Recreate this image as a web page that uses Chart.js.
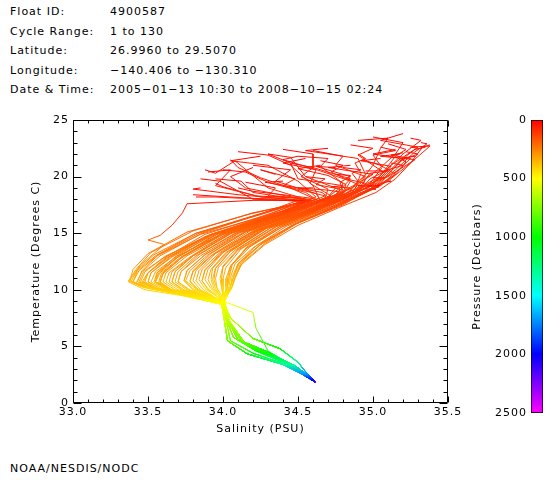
<!DOCTYPE html>
<html>
<head>
<meta charset="utf-8">
<script src="https://cdn.jsdelivr.net/npm/chart.js@4"></script>
<style>
body { margin: 0; background: #fff; }
#wrap { position: relative; width: 560px; height: 480px; font: 11px 'DejaVu Sans'; letter-spacing: 1px; color: #000; }
.t { position: absolute; white-space: nowrap; line-height: 13px; }
canvas { position: absolute; top: 0; }
</style>
</head>
<body>
<div id="wrap">
  <div class="t" style="left:10px;top:5px">Float ID:</div>
  <div class="t" style="left:110px;top:5px">4900587</div>
  <div class="t" style="left:10px;top:25px">Cycle Range:</div>
  <div class="t" style="left:110px;top:25px">1 to 130</div>
  <div class="t" style="left:10px;top:44px">Latitude:</div>
  <div class="t" style="left:110px;top:44px">26.9960 to 29.5070</div>
  <div class="t" style="left:10px;top:64px">Longitude:</div>
  <div class="t" style="left:110px;top:64px">−140.406 to −130.310</div>
  <div class="t" style="left:10px;top:83px">Date &amp; Time:</div>
  <div class="t" style="left:110px;top:83px">2005−01−13 10:30 to 2008−10−15 02:24</div>
  <div class="t" style="left:10px;top:462px">NOAA/NESDIS/NODC</div>
  <canvas id="ts" width="560" height="480" style="left:0"></canvas>
  <canvas id="bar" width="120" height="480" style="left:440px"></canvas>
</div>
<script>
// pressure levels (dbar) shared by every profile
const pressure = [5, 25, 50, 75, 100, 150, 200, 250, 300, 350, 400, 450, 500, 600, 800, 1000, 1300, 1700, 2000, 2200];

// salinity (PSU), one row per profile
const salinity = [
  [35.38, 35.33, 35.25, 35.15, 35.02, 34.78, 34.50, 34.28, 34.12, 34.08, 34.06, 34.03, 34.01, 34.05, 34.20, 34.38, 34.50, 34.56, 34.60, 34.62],
  [35.35, 35.28, 35.22, 35.10, 34.98, 34.72, 34.42, 34.20, 34.08, 34.05, 34.04, 34.02, 34.00, 34.03, 34.12, 34.30, 34.46, 34.55, 34.60, 34.62],
  [35.20, 35.05, 35.30, 35.12, 35.00, 34.70, 34.38, 34.15, 34.05, 34.03, 34.03, 34.01, 34.00, 34.02, 34.10, 34.26, 34.44, 34.54, 34.60, 34.62],
  [35.00, 35.20, 35.15, 35.05, 34.95, 34.65, 34.30, 34.05, 33.95, 33.93, 33.95, 33.98, 34.00, 34.04, 34.15, 34.33, 34.48, 34.56, 34.60, 34.62],
  [35.18, 35.05, 35.28, 35.10, 34.90, 34.60, 34.22, 33.98, 33.88, 33.86, 33.90, 33.96, 34.00, 34.01, 34.03, 34.16, 34.40, 34.52, 34.59, 34.62],
  [35.05, 34.90, 35.04, 34.98, 34.92, 34.55, 34.18, 33.92, 33.80, 33.78, 33.84, 33.93, 34.00, 34.03, 34.12, 34.30, 34.46, 34.55, 34.60, 34.62],
  [34.95, 35.02, 34.96, 34.90, 34.85, 34.50, 34.10, 33.85, 33.72, 33.70, 33.78, 33.90, 33.99, 34.02, 34.10, 34.26, 34.44, 34.54, 34.60, 34.62],
  [34.50, 34.40, 34.65, 34.85, 34.80, 34.45, 34.02, 33.78, 33.64, 33.62, 33.70, 33.85, 33.99, 34.04, 34.15, 34.33, 34.48, 34.56, 34.60, 34.62],
  [34.30, 34.45, 34.50, 34.80, 34.70, 34.38, 33.95, 33.70, 33.56, 33.55, 33.64, 33.82, 33.99, 34.05, 34.20, 34.38, 34.50, 34.56, 34.60, 34.62],
  [34.00, 34.15, 34.30, 34.55, 34.62, 34.30, 33.90, 33.62, 33.50, 33.48, 33.58, 33.78, 33.98, 34.03, 34.12, 34.30, 34.46, 34.55, 34.60, 34.62],
  [33.82, 33.95, 34.10, 34.40, 34.60, 34.20, 33.80, 33.52, 33.42, 33.37, 33.45, 33.70, 34.00, 34.01, 34.03, 34.16, 34.40, 34.52, 34.59, 34.62],
  [34.55, 34.20, 33.76, 33.73, 33.66, 33.58, 33.50, 33.61, 33.45, 33.37, 33.48, 33.72, 34.00, 34.02, 34.10, 34.26, 34.44, 34.54, 34.60, 34.62],
  [34.85, 34.70, 35.00, 34.95, 34.92, 34.62, 34.26, 34.02, 33.92, 33.90, 33.93, 33.97, 34.00, 34.02, 34.10, 34.26, 34.44, 34.54, 34.60, 34.62],
  [34.60, 34.80, 34.75, 34.95, 34.88, 34.58, 34.20, 33.95, 33.84, 33.82, 33.87, 33.94, 34.00, 34.04, 34.15, 34.33, 34.48, 34.56, 34.60, 34.62],
  [34.15, 34.35, 34.30, 34.50, 34.55, 34.35, 33.98, 33.72, 33.60, 33.58, 33.66, 33.83, 33.99, 34.03, 34.12, 34.30, 34.46, 34.55, 34.60, 34.62],
  [33.90, 34.05, 33.95, 34.25, 34.50, 34.25, 33.86, 33.58, 33.46, 33.42, 33.52, 33.75, 33.99, 34.01, 34.03, 34.16, 34.40, 34.52, 34.59, 34.62],
  [34.05, 34.10, 34.25, 34.45, 34.60, 34.40, 34.05, 33.80, 33.68, 33.66, 33.74, 33.88, 34.00, 34.05, 34.20, 34.38, 34.50, 34.56, 34.60, 34.62],
  [34.40, 34.60, 34.60, 34.85, 34.75, 34.48, 34.12, 33.88, 33.76, 33.74, 33.80, 33.91, 34.00, 34.02, 34.10, 34.26, 34.44, 34.54, 34.60, 34.62],
  [35.10, 35.12, 35.08, 35.02, 34.95, 34.68, 34.32, 34.10, 34.00, 33.98, 33.99, 34.00, 34.01, 34.04, 34.15, 34.33, 34.48, 34.56, 34.60, 34.62],
  [35.28, 35.18, 35.22, 35.15, 35.05, 34.75, 34.45, 34.22, 34.10, 34.07, 34.05, 34.02, 34.00, 34.03, 34.12, 34.30, 34.46, 34.55, 34.60, 34.62],
  [34.70, 34.55, 34.90, 34.95, 34.82, 34.52, 34.15, 33.90, 33.78, 33.75, 33.82, 33.92, 34.00, 34.01, 34.03, 34.16, 34.40, 34.52, 34.59, 34.62],
  [34.75, 34.85, 34.82, 34.95, 34.90, 34.60, 34.25, 34.00, 33.90, 33.88, 33.92, 33.97, 34.02, 34.20, 34.22, 34.30, 34.45, 34.55, 34.60, 34.62],
  [33.88, 33.95, 34.08, 34.30, 34.55, 34.30, 33.92, 33.65, 33.52, 33.50, 33.60, 33.80, 33.99, 34.03, 34.12, 34.30, 34.46, 34.55, 34.60, 34.62],
  [34.30, 34.45, 34.55, 34.75, 34.70, 34.42, 34.04, 33.76, 33.62, 33.60, 33.68, 33.84, 33.99, 34.02, 34.10, 34.26, 34.44, 34.54, 34.60, 34.62],
  [34.90, 35.10, 35.05, 35.00, 34.90, 34.60, 34.28, 34.05, 33.95, 33.94, 33.96, 33.99, 34.00, 34.05, 34.20, 34.38, 34.50, 34.56, 34.60, 34.62],
  [35.30, 35.25, 35.38, 35.25, 35.10, 34.80, 34.48, 34.25, 34.11, 34.07, 34.05, 34.03, 34.01, 34.04, 34.15, 34.33, 34.48, 34.56, 34.60, 34.62],
  [34.60, 34.50, 34.70, 34.80, 34.78, 34.40, 33.95, 33.62, 33.48, 33.45, 33.56, 33.78, 33.99, 34.03, 34.12, 34.30, 34.46, 34.55, 34.60, 34.62],
  [34.80, 34.72, 34.85, 34.82, 34.80, 34.45, 34.00, 33.70, 33.55, 33.52, 33.62, 33.80, 33.99, 34.01, 34.03, 34.16, 34.40, 34.52, 34.59, 34.62],
  [35.32, 35.36, 35.28, 35.15, 35.00, 34.74, 34.46, 34.24, 34.10, 34.06, 34.05, 34.02, 34.00, 34.02, 34.07, 34.22, 34.42, 34.53, 34.59, 34.62],
  [34.95, 35.10, 34.98, 34.92, 34.85, 34.52, 34.14, 33.88, 33.76, 33.74, 33.80, 33.91, 34.00, 34.03, 34.17, 34.36, 34.49, 34.56, 34.60, 34.62],
  [34.45, 34.60, 34.52, 34.70, 34.68, 34.35, 33.94, 33.66, 33.52, 33.50, 33.58, 33.78, 33.99, 34.05, 34.20, 34.38, 34.50, 34.56, 34.60, 34.62],
  [35.05, 34.92, 35.12, 35.05, 34.95, 34.64, 34.28, 34.04, 33.93, 33.92, 33.94, 33.98, 34.00, 34.03, 34.12, 34.30, 34.46, 34.55, 34.60, 34.62],
  [34.20, 34.45, 34.35, 34.62, 34.65, 34.28, 33.85, 33.56, 33.44, 33.40, 33.50, 33.72, 34.00, 34.02, 34.10, 34.26, 34.44, 34.54, 34.60, 34.62],
  [35.22, 35.30, 35.18, 35.10, 35.02, 34.70, 34.36, 34.12, 34.02, 34.00, 34.00, 34.00, 34.01, 34.04, 34.15, 34.33, 34.48, 34.56, 34.60, 34.62],
  [34.65, 34.80, 34.72, 34.90, 34.86, 34.50, 34.08, 33.82, 33.70, 33.68, 33.76, 33.89, 34.00, 34.01, 34.03, 34.16, 34.40, 34.52, 34.59, 34.62],
  [34.10, 34.20, 34.40, 34.58, 34.66, 34.32, 33.88, 33.60, 33.47, 33.44, 33.54, 33.76, 34.00, 34.02, 34.07, 34.22, 34.42, 34.53, 34.59, 34.62],
  [34.85, 35.00, 34.90, 35.08, 34.98, 34.66, 34.32, 34.08, 33.97, 33.95, 33.96, 33.99, 34.00, 34.03, 34.12, 34.30, 34.46, 34.55, 34.60, 34.62],
  [34.35, 34.25, 34.48, 34.40, 34.68, 34.40, 34.00, 33.74, 33.60, 33.58, 33.66, 33.83, 33.99, 34.03, 34.17, 34.36, 34.49, 34.56, 34.60, 34.62],
  [35.15, 35.00, 35.20, 35.12, 35.05, 34.76, 34.48, 34.26, 34.12, 34.08, 34.06, 34.03, 34.01, 34.02, 34.10, 34.26, 34.44, 34.54, 34.60, 34.62],
  [33.95, 34.12, 34.20, 34.35, 34.58, 34.22, 33.82, 33.54, 33.43, 33.39, 33.47, 33.71, 34.00, 34.05, 34.20, 34.38, 34.50, 34.56, 34.60, 34.62],
  [34.75, 34.62, 34.85, 34.78, 34.80, 34.46, 34.05, 33.80, 33.68, 33.66, 33.73, 33.87, 34.00, 34.04, 34.15, 34.33, 34.48, 34.56, 34.60, 34.62],
  [35.00, 35.08, 35.02, 34.96, 34.90, 34.58, 34.22, 33.98, 33.86, 33.84, 33.88, 33.95, 34.00, 34.02, 34.07, 34.22, 34.42, 34.53, 34.59, 34.62],
  [34.55, 34.40, 34.62, 34.58, 34.72, 34.36, 33.92, 33.64, 33.50, 33.46, 33.56, 33.77, 33.99, 34.01, 34.03, 34.16, 34.40, 34.52, 34.59, 34.62],
  [35.25, 35.32, 35.20, 35.08, 34.98, 34.68, 34.38, 34.16, 34.06, 34.04, 34.03, 34.02, 34.00, 34.03, 34.12, 34.30, 34.46, 34.55, 34.60, 34.62],
  [34.25, 34.05, 34.30, 34.50, 34.62, 34.34, 33.96, 33.70, 33.58, 33.55, 33.63, 33.81, 33.99, 34.03, 34.17, 34.36, 34.49, 34.56, 34.60, 34.62],
  [34.90, 34.95, 34.88, 34.92, 34.88, 34.56, 34.18, 33.94, 33.82, 33.80, 33.85, 33.93, 34.00, 34.02, 34.10, 34.26, 34.44, 34.54, 34.60, 34.62],
  [33.85, 33.80, 34.10, 34.45, 34.55, 34.18, 33.76, 33.50, 33.40, 33.38, 33.48, 33.72, 34.00, 34.04, 34.15, 34.33, 34.48, 34.56, 34.60, 34.62],
  [35.12, 35.20, 35.10, 35.15, 35.05, 34.72, 34.40, 34.18, 34.06, 34.04, 34.03, 34.01, 34.00, 34.02, 34.07, 34.22, 34.42, 34.53, 34.59, 34.62],
  [33.80, 33.92, 34.05, 34.30, 34.52, 34.22, 33.84, 33.57, 33.46, 33.43, 33.52, 33.74, 34.00, 34.02, 34.05, 34.20, 34.41, 34.53, 34.59, 34.62],
  [34.20, 34.05, 34.15, 34.38, 34.58, 34.30, 33.93, 33.68, 33.56, 33.54, 33.63, 33.81, 33.99, 34.03, 34.12, 34.30, 34.46, 34.55, 34.60, 34.62],
  [34.55, 34.68, 34.62, 34.78, 34.76, 34.44, 34.06, 33.80, 33.66, 33.64, 33.72, 33.86, 34.00, 34.04, 34.15, 34.33, 34.48, 34.56, 34.60, 34.62],
  [34.95, 35.05, 35.10, 34.98, 34.92, 34.60, 34.24, 34.00, 33.88, 33.86, 33.90, 33.96, 34.00, 34.02, 34.05, 34.20, 34.41, 34.53, 34.59, 34.62],
  [34.10, 34.30, 34.45, 34.60, 34.64, 34.34, 33.96, 33.70, 33.57, 33.55, 33.64, 33.82, 33.99, 34.02, 34.10, 34.26, 34.44, 34.54, 34.60, 34.62],
  [35.10, 35.22, 35.15, 35.08, 35.00, 34.70, 34.40, 34.16, 34.05, 34.02, 34.02, 34.01, 34.00, 34.05, 34.20, 34.38, 34.50, 34.56, 34.60, 34.62],
  [33.95, 34.00, 34.22, 34.48, 34.56, 34.24, 33.82, 33.55, 33.43, 33.40, 33.50, 33.74, 34.00, 34.03, 34.17, 34.36, 34.49, 34.56, 34.60, 34.62],
  [34.65, 34.50, 34.70, 34.82, 34.80, 34.48, 34.10, 33.84, 33.72, 33.70, 33.77, 33.89, 34.00, 34.02, 34.07, 34.22, 34.42, 34.53, 34.59, 34.62],
  [35.20, 35.12, 35.25, 35.18, 35.08, 34.80, 34.50, 34.28, 34.13, 34.08, 34.06, 34.03, 34.01, 34.03, 34.12, 34.30, 34.46, 34.55, 34.60, 34.62],
  [34.40, 34.28, 34.50, 34.66, 34.70, 34.38, 33.98, 33.72, 33.59, 33.57, 33.65, 33.82, 33.99, 34.01, 34.03, 34.16, 34.40, 34.52, 34.59, 34.62],
  [34.80, 34.92, 34.86, 34.90, 34.84, 34.52, 34.16, 33.92, 33.80, 33.78, 33.83, 33.92, 34.00, 34.02, 34.05, 34.20, 34.41, 34.53, 34.59, 34.62],
  [33.85, 33.98, 34.20, 34.42, 34.55, 34.26, 33.88, 33.62, 33.50, 33.47, 33.56, 33.77, 34.00, 34.04, 34.15, 34.33, 34.48, 34.56, 34.60, 34.62],
  [35.05, 35.15, 35.00, 35.06, 34.98, 34.66, 34.34, 34.10, 34.00, 33.99, 33.99, 34.00, 34.01, 34.02, 34.10, 34.26, 34.44, 34.54, 34.60, 34.62],
  [34.50, 34.70, 34.65, 34.80, 34.78, 34.42, 34.02, 33.74, 33.60, 33.58, 33.66, 33.84, 33.99, 34.05, 34.20, 34.38, 34.50, 34.56, 34.60, 34.62]
];

// temperature (deg C), same rows
const temperature = [
  [22.8, 22.6, 21.2, 19.8, 18.6, 17.3, 15.7, 14.0, 12.2, 11.0, 10.2, 9.5, 8.9, 7.5, 5.7, 4.8, 3.6, 2.6, 2.05, 1.8],
  [22.6, 22.4, 21.8, 20.2, 18.9, 17.2, 15.6, 13.7, 12.3, 11.1, 10.3, 9.6, 9.0, 7.5, 5.5, 4.5, 3.4, 2.55, 2.05, 1.8],
  [23.8, 23.2, 22.6, 21.0, 19.5, 17.4, 15.6, 13.6, 12.1, 11.0, 10.2, 9.6, 9.0, 7.6, 5.6, 4.5, 3.4, 2.55, 2.05, 1.8],
  [23.5, 23.0, 22.0, 20.8, 19.8, 17.6, 15.5, 13.4, 11.9, 10.9, 10.1, 9.5, 8.9, 7.3, 5.2, 4.2, 3.3, 2.5, 2.0, 1.8],
  [22.0, 21.8, 21.5, 20.0, 19.0, 17.1, 15.2, 13.2, 11.7, 10.8, 10.0, 9.4, 8.9, 7.2, 5.5, 4.35, 3.4, 2.6, 2.05, 1.8],
  [19.2, 19.2, 19.1, 18.8, 18.4, 16.8, 15.0, 13.0, 11.6, 10.7, 10.0, 9.4, 8.9, 7.5, 5.5, 4.5, 3.4, 2.55, 2.05, 1.8],
  [18.9, 18.9, 18.8, 18.5, 18.2, 16.7, 15.0, 13.0, 11.6, 10.7, 10.0, 9.4, 8.8, 7.6, 5.6, 4.5, 3.4, 2.55, 2.05, 1.8],
  [21.8, 21.5, 20.5, 19.6, 18.5, 16.6, 14.9, 12.9, 11.5, 10.7, 10.0, 9.4, 8.8, 7.3, 5.2, 4.2, 3.3, 2.5, 2.0, 1.8],
  [22.0, 21.2, 19.8, 19.2, 18.2, 16.6, 14.9, 12.9, 11.5, 10.7, 10.0, 9.4, 8.8, 7.5, 5.7, 4.8, 3.6, 2.6, 2.05, 1.8],
  [20.6, 20.4, 19.5, 18.6, 18.0, 16.5, 14.8, 12.8, 11.5, 10.7, 10.0, 9.4, 8.8, 7.5, 5.5, 4.5, 3.4, 2.55, 2.05, 1.8],
  [18.2, 18.2, 18.1, 18.0, 17.9, 16.8, 15.2, 13.3, 11.8, 10.8, 10.3, 9.6, 8.7, 7.2, 5.5, 4.35, 3.4, 2.6, 2.05, 1.8],
  [17.9, 17.9, 17.6, 16.8, 15.7, 14.8, 14.4, 14.0, 12.2, 10.7, 10.0, 9.5, 8.7, 7.6, 5.6, 4.5, 3.4, 2.55, 2.05, 1.8],
  [21.0, 20.8, 20.2, 19.8, 18.9, 17.0, 15.3, 13.3, 11.8, 10.9, 10.1, 9.5, 8.9, 7.6, 5.6, 4.5, 3.4, 2.55, 2.05, 1.8],
  [22.3, 21.8, 21.0, 20.0, 18.7, 16.9, 15.2, 13.2, 11.7, 10.8, 10.0, 9.4, 8.9, 7.3, 5.2, 4.2, 3.3, 2.5, 2.0, 1.8],
  [19.5, 19.0, 18.3, 18.1, 17.8, 16.5, 14.8, 12.8, 11.4, 10.6, 10.0, 9.4, 8.8, 7.5, 5.5, 4.5, 3.4, 2.55, 2.05, 1.8],
  [20.4, 20.6, 19.2, 18.2, 17.9, 16.7, 15.0, 13.0, 11.6, 10.6, 10.1, 9.5, 8.7, 7.2, 5.5, 4.35, 3.4, 2.6, 2.05, 1.8],
  [21.5, 20.8, 19.9, 19.0, 18.1, 16.7, 15.0, 13.0, 11.6, 10.7, 10.0, 9.4, 8.8, 7.5, 5.7, 4.8, 3.6, 2.6, 2.05, 1.8],
  [22.4, 22.0, 20.8, 19.8, 18.4, 16.8, 15.1, 13.1, 11.7, 10.8, 10.0, 9.4, 8.9, 7.6, 5.6, 4.5, 3.4, 2.55, 2.05, 1.8],
  [19.6, 19.6, 19.5, 19.2, 18.7, 17.1, 15.5, 13.6, 12.1, 11.0, 10.2, 9.5, 8.9, 7.3, 5.2, 4.2, 3.3, 2.5, 2.0, 1.8],
  [21.8, 21.6, 21.3, 20.2, 19.2, 17.3, 15.6, 13.9, 12.3, 11.1, 10.3, 9.6, 9.0, 7.5, 5.5, 4.5, 3.4, 2.55, 2.05, 1.8],
  [22.5, 22.3, 21.6, 20.2, 18.5, 16.8, 15.1, 13.1, 11.7, 10.8, 10.1, 9.5, 8.9, 7.2, 5.5, 4.35, 3.4, 2.6, 2.05, 1.8],
  [20.2, 20.1, 19.8, 19.4, 18.8, 17.0, 15.3, 13.3, 11.8, 10.9, 10.1, 9.5, 8.9, 8.0, 6.6, 4.6, 3.4, 2.5, 2.05, 1.8],
  [20.6, 20.3, 21.4, 19.0, 18.0, 16.6, 14.9, 12.9, 11.5, 10.7, 10.0, 9.4, 8.8, 7.5, 5.5, 4.5, 3.4, 2.55, 2.05, 1.8],
  [22.0, 21.7, 20.0, 19.0, 18.2, 16.7, 15.0, 13.0, 11.5, 10.7, 10.0, 9.4, 8.8, 7.6, 5.6, 4.5, 3.4, 2.55, 2.05, 1.8],
  [23.2, 23.4, 22.5, 21.0, 19.3, 17.2, 15.4, 13.4, 11.9, 10.9, 10.1, 9.5, 8.9, 7.5, 5.7, 4.8, 3.6, 2.6, 2.05, 1.8],
  [22.5, 22.6, 22.7, 21.2, 19.6, 17.6, 15.8, 14.0, 12.4, 11.1, 10.3, 9.6, 9.0, 7.3, 5.2, 4.2, 3.3, 2.5, 2.0, 1.8],
  [19.0, 19.0, 18.8, 18.6, 18.4, 16.7, 15.0, 13.0, 11.6, 10.7, 10.1, 9.5, 8.8, 7.5, 5.5, 4.5, 3.4, 2.55, 2.05, 1.8],
  [19.2, 19.1, 19.0, 18.8, 18.5, 16.8, 15.0, 13.0, 11.6, 10.7, 10.0, 9.4, 8.8, 7.2, 5.5, 4.35, 3.4, 2.6, 2.05, 1.8],
  [23.0, 22.9, 22.2, 20.6, 19.0, 17.3, 15.7, 13.9, 12.3, 11.1, 10.3, 9.6, 9.0, 7.4, 5.8, 4.6, 3.5, 2.6, 2.05, 1.8],
  [20.5, 20.5, 20.3, 19.2, 18.3, 16.8, 15.1, 13.1, 11.7, 10.8, 10.1, 9.5, 8.9, 7.0, 5.0, 4.0, 3.1, 2.45, 2.0, 1.8],
  [21.2, 20.8, 20.0, 18.9, 18.1, 16.6, 14.9, 12.9, 11.5, 10.7, 10.1, 9.5, 8.8, 7.5, 5.7, 4.8, 3.6, 2.6, 2.05, 1.8],
  [21.6, 21.4, 20.9, 19.9, 19.0, 17.1, 15.4, 13.4, 11.9, 10.9, 10.1, 9.5, 8.9, 7.5, 5.5, 4.5, 3.4, 2.55, 2.05, 1.8],
  [21.0, 20.6, 19.6, 18.5, 17.9, 16.5, 14.9, 13.0, 11.7, 10.7, 10.2, 9.6, 8.7, 7.6, 5.6, 4.5, 3.4, 2.55, 2.05, 1.8],
  [22.2, 22.0, 21.4, 20.4, 19.4, 17.4, 15.6, 13.6, 12.0, 11.0, 10.2, 9.6, 8.9, 7.3, 5.2, 4.2, 3.3, 2.5, 2.0, 1.8],
  [21.4, 21.0, 20.4, 19.3, 18.6, 16.7, 15.0, 13.0, 11.6, 10.7, 10.0, 9.4, 8.8, 7.2, 5.5, 4.35, 3.4, 2.6, 2.05, 1.8],
  [19.0, 18.7, 18.4, 18.1, 17.8, 16.4, 14.7, 12.8, 11.6, 10.7, 10.1, 9.5, 8.8, 7.4, 5.8, 4.6, 3.5, 2.6, 2.05, 1.8],
  [22.8, 22.5, 21.9, 20.3, 19.1, 17.2, 15.5, 13.5, 12.0, 11.0, 10.2, 9.5, 8.9, 7.5, 5.5, 4.5, 3.4, 2.55, 2.05, 1.8],
  [20.2, 20.6, 19.8, 19.2, 18.3, 16.7, 15.0, 13.0, 11.5, 10.6, 10.0, 9.4, 8.8, 7.0, 5.0, 4.0, 3.1, 2.45, 2.0, 1.8],
  [22.4, 22.0, 21.6, 20.5, 19.4, 17.4, 15.8, 14.1, 12.4, 11.1, 10.3, 9.6, 9.0, 7.6, 5.6, 4.5, 3.4, 2.55, 2.05, 1.8],
  [19.8, 19.6, 18.6, 18.3, 18.0, 16.6, 15.0, 13.1, 11.8, 10.8, 10.2, 9.6, 8.7, 7.5, 5.7, 4.8, 3.6, 2.6, 2.05, 1.8],
  [20.8, 20.9, 20.0, 19.5, 18.7, 16.8, 15.0, 13.0, 11.6, 10.7, 10.0, 9.4, 8.8, 7.3, 5.2, 4.2, 3.3, 2.5, 2.0, 1.8],
  [19.9, 19.9, 19.8, 19.4, 18.8, 17.0, 15.3, 13.3, 11.8, 10.9, 10.1, 9.5, 8.9, 7.4, 5.8, 4.6, 3.5, 2.6, 2.05, 1.8],
  [21.6, 21.2, 20.6, 19.4, 18.3, 16.6, 14.9, 12.9, 11.5, 10.7, 10.0, 9.5, 8.8, 7.2, 5.5, 4.35, 3.4, 2.6, 2.05, 1.8],
  [23.4, 23.2, 22.0, 20.5, 19.2, 17.3, 15.6, 13.8, 12.2, 11.1, 10.3, 9.6, 9.0, 7.5, 5.5, 4.5, 3.4, 2.55, 2.05, 1.8],
  [21.8, 21.4, 21.0, 19.6, 18.2, 16.6, 14.9, 12.9, 11.5, 10.7, 10.0, 9.4, 8.8, 7.0, 5.0, 4.0, 3.1, 2.45, 2.0, 1.8],
  [22.0, 21.6, 21.2, 20.3, 18.9, 17.0, 15.2, 13.2, 11.7, 10.8, 10.0, 9.4, 8.9, 7.6, 5.6, 4.5, 3.4, 2.55, 2.05, 1.8],
  [19.0, 18.9, 18.4, 18.0, 17.8, 16.7, 15.1, 13.2, 11.8, 10.8, 10.2, 9.6, 8.7, 7.3, 5.2, 4.2, 3.3, 2.5, 2.0, 1.8],
  [21.2, 21.0, 20.6, 20.2, 19.3, 17.3, 15.6, 13.8, 12.2, 11.1, 10.3, 9.6, 9.0, 7.4, 5.8, 4.6, 3.5, 2.6, 2.05, 1.8],
  [18.4, 18.3, 18.2, 18.0, 17.8, 16.6, 15.0, 13.1, 11.7, 10.7, 10.1, 9.5, 8.7, 7.3, 5.5, 4.4, 3.45, 2.6, 2.05, 1.8],
  [20.8, 20.0, 19.0, 18.4, 17.9, 16.5, 14.9, 12.9, 11.5, 10.7, 10.0, 9.4, 8.8, 7.5, 5.5, 4.5, 3.4, 2.55, 2.05, 1.8],
  [20.0, 19.8, 19.3, 18.9, 18.4, 16.7, 15.0, 13.0, 11.6, 10.7, 10.0, 9.4, 8.8, 7.3, 5.2, 4.2, 3.3, 2.5, 2.0, 1.8],
  [21.4, 21.0, 20.6, 19.8, 18.9, 17.1, 15.3, 13.3, 11.8, 10.8, 10.1, 9.5, 8.9, 7.3, 5.5, 4.4, 3.45, 2.6, 2.05, 1.8],
  [22.2, 21.9, 21.0, 19.2, 18.1, 16.6, 14.9, 12.9, 11.5, 10.7, 10.0, 9.4, 8.8, 7.6, 5.6, 4.5, 3.4, 2.55, 2.05, 1.8],
  [22.9, 22.4, 21.8, 20.6, 19.3, 17.3, 15.6, 13.7, 12.1, 11.0, 10.2, 9.6, 8.9, 7.5, 5.7, 4.8, 3.6, 2.6, 2.05, 1.8],
  [19.4, 19.1, 18.3, 18.1, 17.9, 16.6, 15.0, 13.0, 11.7, 10.7, 10.2, 9.6, 8.7, 7.0, 5.0, 4.0, 3.1, 2.45, 2.0, 1.8],
  [21.0, 20.7, 20.1, 19.3, 18.6, 16.8, 15.1, 13.1, 11.6, 10.7, 10.0, 9.4, 8.8, 7.4, 5.8, 4.6, 3.5, 2.6, 2.05, 1.8],
  [22.1, 21.9, 21.6, 20.7, 19.6, 17.5, 15.9, 14.1, 12.4, 11.1, 10.3, 9.6, 9.0, 7.5, 5.5, 4.5, 3.4, 2.55, 2.05, 1.8],
  [19.6, 19.5, 19.0, 18.6, 18.2, 16.6, 14.9, 12.9, 11.5, 10.6, 10.0, 9.4, 8.8, 7.2, 5.5, 4.35, 3.4, 2.6, 2.05, 1.8],
  [20.8, 20.6, 20.3, 19.6, 18.6, 16.9, 15.2, 13.2, 11.7, 10.8, 10.0, 9.4, 8.9, 7.3, 5.5, 4.4, 3.45, 2.6, 2.05, 1.8],
  [19.8, 19.6, 18.0, 17.9, 17.8, 16.5, 14.9, 12.9, 11.5, 10.7, 10.1, 9.5, 8.8, 7.3, 5.2, 4.2, 3.3, 2.5, 2.0, 1.8],
  [22.6, 22.3, 21.9, 20.8, 19.4, 17.3, 15.5, 13.5, 12.0, 11.0, 10.2, 9.5, 8.9, 7.6, 5.6, 4.5, 3.4, 2.55, 2.05, 1.8],
  [21.8, 21.6, 20.9, 19.4, 18.4, 16.7, 15.0, 13.0, 11.5, 10.7, 10.0, 9.4, 8.8, 7.5, 5.7, 4.8, 3.6, 2.6, 2.05, 1.8]
];

const pressureTicks = [0, 500, 1000, 1500, 2000, 2500];

// rainbow: red at 0 dbar to magenta at 2500 dbar
function pColor(p) {
  const h = 300 * Math.min(Math.max(p, 0), 2500) / 2500;
  return 'hsl(' + h + ',100%,50%)';
}

const font = { family: 'DejaVu Sans', size: 11 };

const spacing = {
  id: 'spacing',
  beforeUpdate(c) { c.ctx.letterSpacing = '1px'; },
  beforeDraw(c) { c.ctx.letterSpacing = '1px'; }
};

// IDL style box with inward ticks on all four sides
const boxTicks = {
  id: 'boxTicks',
  afterDraw(chart) {
    const { ctx, chartArea: a, scales: { x, y } } = chart;
    const L = Math.round(a.left) + 0.5, R = Math.round(a.right) - 0.5;
    const T = Math.round(a.top) + 0.5, B = Math.round(a.bottom) - 0.5;
    ctx.save();
    ctx.strokeStyle = '#000';
    ctx.lineWidth = 1;
    ctx.beginPath();
    ctx.rect(L, T, R - L, B - T);
    for (let i = 0; i <= 25; i++) {
      const px = Math.round(x.getPixelForValue(33 + i / 10)) + 0.5;
      const len = i % 5 === 0 ? 6 : 3;
      ctx.moveTo(px, B); ctx.lineTo(px, B - len);
      ctx.moveTo(px, T); ctx.lineTo(px, T + len);
    }
    for (let i = 0; i <= 25; i++) {
      const py = Math.round(y.getPixelForValue(i)) + 0.5;
      const len = i % 5 === 0 ? 8 : 4;
      ctx.moveTo(L, py); ctx.lineTo(L + len, py);
      ctx.moveTo(R, py); ctx.lineTo(R - len, py);
    }
    ctx.stroke();
    ctx.restore();
  }
};

const datasets = salinity.map((row, i) => ({
  data: row.map((s, j) => ({ x: s, y: temperature[i][j] })),
  showLine: true,
  pointRadius: 0,
  borderWidth: 1,
  borderColor: '#f80',
  tension: 0,
  segment: {
    borderColor: c => {
      const g = c.chart.ctx.createLinearGradient(c.p0.x, c.p0.y, c.p1.x, c.p1.y);
      g.addColorStop(0, pColor(pressure[c.p0DataIndex]));
      g.addColorStop(1, pColor(pressure[c.p1DataIndex]));
      return g;
    },
    borderDashOffset: c => c.p0DataIndex
  }
}));

new Chart(document.getElementById('ts'), {
  type: 'scatter',
  data: { datasets },
  options: {
    responsive: false,
    animation: false,
    layout: { padding: { left: 0, top: 120, right: 112, bottom: 44 } },
    plugins: { legend: { display: false }, tooltip: { enabled: false } },
    scales: {
      x: {
        type: 'linear', min: 33, max: 35.5,
        grid: { display: false, drawTicks: false }, border: { display: false },
        ticks: { stepSize: 0.5, padding: 3, color: '#000', font, maxRotation: 0,
          callback: v => v.toFixed(1) },
        title: { display: true, text: 'Salinity (PSU)', color: '#000', font, padding: { top: 0, bottom: 0 } },
        afterFit: s => { s.height = 33; }
      },
      y: {
        min: 0, max: 25,
        grid: { display: false, drawTicks: false }, border: { display: false },
        ticks: { stepSize: 5, padding: 4, color: '#000', font },
        title: { display: true, text: 'Temperature (Degrees C)', color: '#000', font, padding: { top: 30, bottom: 0 } },
        afterFit: s => { s.width = 73; }
      }
    }
  },
  plugins: [spacing, boxTicks]
});

new Chart(document.getElementById('bar'), {
  type: 'bar',
  data: {
    labels: [''],
    datasets: [{
      data: [[pressureTicks[0], pressureTicks[pressureTicks.length - 1]]],
      backgroundColor: c => {
        const a = c.chart.chartArea;
        if (!a) return '#f00';
        const g = c.chart.ctx.createLinearGradient(0, a.top, 0, a.bottom);
        for (let k = 0; k <= 10; k++) g.addColorStop(k / 10, pColor(250 * k));
        return g;
      },
      borderColor: '#000',
      borderWidth: 1,
      borderSkipped: false,
      barPercentage: 1,
      categoryPercentage: 1
    }]
  },
  options: {
    responsive: false,
    animation: false,
    layout: { padding: { left: 0, top: 120, right: 17, bottom: 67 } },
    plugins: { legend: { display: false }, tooltip: { enabled: false } },
    scales: {
      x: { display: false },
      y: {
        reverse: true, min: 0, max: 2500,
        grid: { display: false, drawTicks: false }, border: { display: false },
        ticks: { stepSize: 500, padding: 4, color: '#000', font, callback: v => String(v) },
        title: { display: true, text: 'Pressure (Decibars)', color: '#000', font, padding: { top: 31, bottom: 0 } },
        afterFit: s => { s.width = 91; }
      }
    }
  },
  plugins: [spacing]
});
</script>
</body>
</html>
